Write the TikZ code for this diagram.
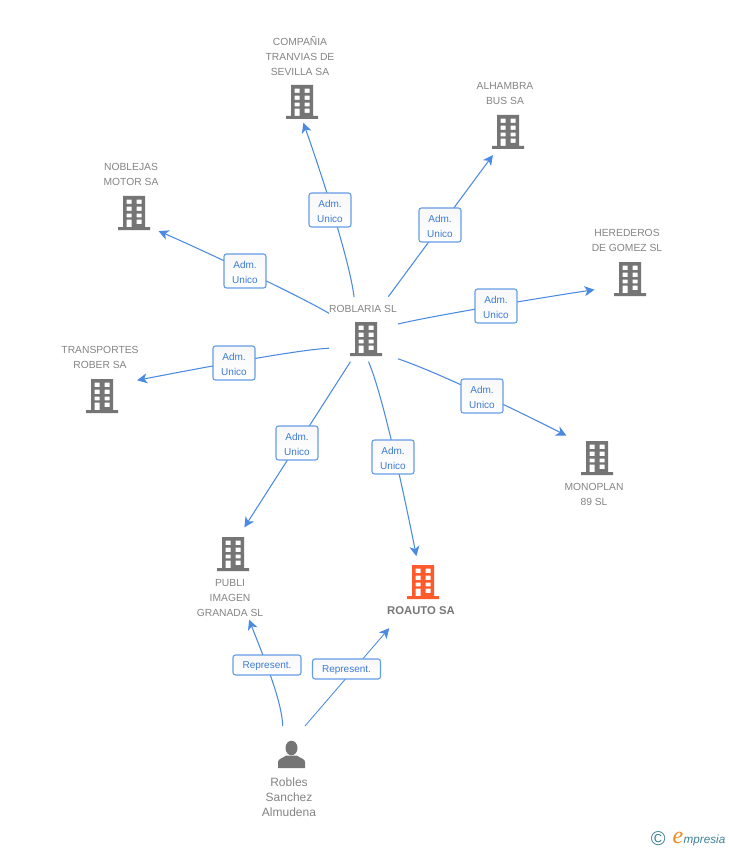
\documentclass[tikz,border=0pt]{standalone}
\usepackage{fontspec}
\setmainfont{Liberation Sans}
\newfontfamily\logofont{Liberation Serif}
\usetikzlibrary{arrows.meta}
\definecolor{iconGray}{HTML}{757575}
\definecolor{iconOrange}{HTML}{FF5A2B}
\definecolor{textGray}{HTML}{848484}
\definecolor{linkBlue}{HTML}{4A8AE2}
\definecolor{labelBlue}{HTML}{3C7BD6}
\definecolor{logoTeal}{HTML}{3F8296}
\definecolor{logoOrange}{HTML}{F08A1E}
\tikzset{
  iconbox/.style={inner sep=0pt,outer sep=0pt,minimum width=32pt,minimum height=34pt},
  personbox/.style={inner sep=0pt,outer sep=0pt,minimum width=28pt,minimum height=28pt},
  gname/.style={text=textGray,align=center,inner sep=0pt,font=\fontsize{10.3}{15}\selectfont},
  boldname/.style={text=textGray!90!black,align=center,inner sep=0pt,font=\fontsize{11.3}{15}\selectfont\bfseries},
  pname/.style={text=textGray,align=center,inner sep=0pt,font=\fontsize{12}{15}\selectfont},
  linkline/.style={draw=linkBlue,line width=1.05pt,-{Stealth[length=10pt,width=10pt,inset=2.8pt]}},
  tagbox/.style={draw=linkBlue!85,line width=1.1pt,top color=black!3,bottom color=white,rounded corners=2.5pt,text=labelBlue,align=center,inner sep=0pt,font=\fontsize{10}{15}\selectfont},
  admtag/.style={tagbox,minimum width=42pt,minimum height=34pt},
  reptag/.style={tagbox,minimum width=68pt,minimum height=20pt},
}
\newcommand{\building}[4]{%
  \node[iconbox] (#1) at (#2,#3) {};
  \begin{scope}[shift={(#1.center)},x=1pt,y=-1pt]
    \fill[#4,even odd rule]
      (-11,-17) rectangle (11,14) (-16,14) rectangle (16,17)
      (-7.5,-13.3) rectangle (-2.5,-9) (2.5,-13.3) rectangle (7.5,-9)
      (-7.5,-6.3) rectangle (-2.5,-2) (2.5,-6.3) rectangle (7.5,-2)
      (-7.5,0.7) rectangle (-2.5,4.3) (2.5,0.7) rectangle (7.5,4.3)
      (-7.5,6.7) rectangle (-2.5,14) (2.5,6.7) rectangle (7.5,11);
  \end{scope}}
\newcommand{\admtext}{\rule{0pt}{9.3pt}Adm.\\Unico}
\newcommand{\reptext}{\rule{0pt}{10pt}Represent.}
\begin{document}
\begin{tikzpicture}[x=1pt,y=-1pt]
\useasboundingbox[fill=white] (0,0) rectangle (728,850);

\building{hub}{366}{339}{iconGray}
\building{comp}{302}{102}{iconGray}
\building{alh}{508}{132}{iconGray}
\building{her}{630}{279}{iconGray}
\building{mono}{597}{458}{iconGray}
\building{roauto}{423}{582}{iconOrange}
\building{publi}{233}{554}{iconGray}
\building{trans}{102}{396}{iconGray}
\building{nob}{134}{213}{iconGray}

\node[personbox] (person) at (291.5,754.5) {};
\begin{scope}[shift={(person.center)},x=1pt,y=-1pt]
  \fill[iconGray] (0,-6.5) ellipse (6 and 7.3);
  \fill[iconGray] (-13.5,13.5) -- (-13.5,7.5) .. controls (-13.5,4.5) and (-9,3.5) .. (-5,1)
     -- (5,1) .. controls (9,3.5) and (13.5,4.5) .. (13.5,7.5) -- (13.5,13.5) -- cycle;
\end{scope}

\node[gname] (tcomp) at (300,56) {COMPAÑIA\\TRANVIAS DE\\SEVILLA SA};
\node[gname] (talh) at (505,93.5) {ALHAMBRA\\BUS SA};
\node[gname] (ther) at (627,240.5) {HEREDEROS\\DE GOMEZ SL};
\node[gname] (tnob) at (131,174.5) {NOBLEJAS\\MOTOR SA};
\node[gname] (thub) at (363,308.5) {ROBLARIA SL};
\node[gname] (ttrans) at (100,357.5) {TRANSPORTES\\ROBER SA};
\node[gname] (tmono) at (594,494.5) {MONOPLAN\\89 SL};
\node[gname] (tpubli) at (230,598) {PUBLI\\IMAGEN\\GRANADA SL};
\node[boldname] (troauto) at (421,611) {ROAUTO SA};
\node[pname] (tperson) at (289,797) {Robles\\Sanchez\\Almudena};

\draw[linkline,shorten <=25pt,shorten >=4pt] (hub.118) .. controls (350,262) and (321.5,174) .. (comp.south);
\draw[linkline,shorten <=31.5pt,shorten >=7.5pt] (hub.78) -- (alh.238.3);
\draw[linkline,shorten <=16.4pt,shorten >=19.7pt] (hub.35.5) .. controls (436,315) and (555,295.5) .. (her.206.6);
\draw[linkline,shorten <=17pt,shorten >=16.5pt] (hub.318.4) .. controls (440,373) and (527,415.5) .. (mono.137.2);
\draw[linkline,shorten <=6.2pt,shorten >=9pt] (hub.south) .. controls (383,395) and (405.2,500) .. (roauto.106.4);
\draw[linkline,shorten <=6.8pt,shorten >=11.5pt] (hub.235.7) -- (publi.73.6);
\draw[linkline,shorten <=21pt,shorten >=19.5pt] (hub.207.4) .. controls (293,350) and (175,373) .. (trans.37);
\draw[linkline,shorten <=24.3pt,shorten >=9.3pt] (hub.140.1) .. controls (296,294) and (198,248) .. (nob.318);
\draw[linkline,shorten <=14.5pt,shorten >=52.2pt] (person.121) .. controls (282,700) and (262,653) .. (publi.261.6);
\draw[linkline,line width=0.85pt,shorten <=19pt,shorten >=38.5pt] (person.86) -- (roauto.243.2);

\node[admtag] (l1) at (330,210) {\admtext};
\node[admtag] (l2) at (440,225) {\admtext};
\node[admtag] (l3) at (496,306) {\admtext};
\node[admtag] (l4) at (482,396) {\admtext};
\node[admtag] (l5) at (393,457) {\admtext};
\node[admtag] (l6) at (297,443) {\admtext};
\node[admtag] (l7) at (234,363) {\admtext};
\node[admtag] (l8) at (245,271) {\admtext};
\node[reptag] (l9) at (267,665) {\reptext};
\node[reptag] (l10) at (346.5,669) {\reptext};

\node[inner sep=0pt,text=logoTeal,font=\fontsize{20}{20}\selectfont] (logoc) at (658.3,839) {©};
\node[inner sep=0pt,anchor=base west,text=logoOrange,font=\logofont\itshape\fontsize{24}{24}\selectfont] (logoe) at (672.5,843.5) {e};
\node[inner sep=0pt,anchor=base west,text=logoTeal,font=\itshape\fontsize{11.7}{15}\selectfont] (logot) at (683.5,843) {mpresia};
\end{tikzpicture}
\end{document}
